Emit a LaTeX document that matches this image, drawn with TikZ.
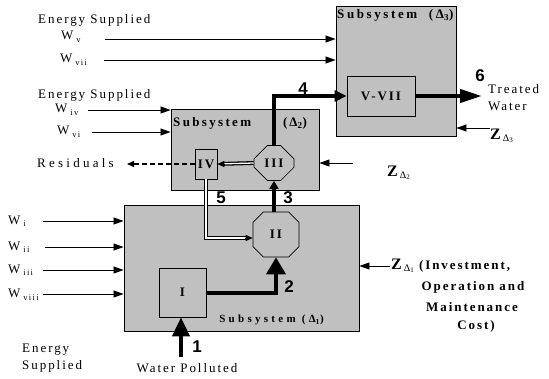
\documentclass[tikz,border=0pt]{standalone}
\usepackage{fontspec}
\setmainfont{Liberation Serif}[LetterSpace=15]
\newfontfamily\numfont{Liberation Sans}
\usetikzlibrary{arrows.meta,shapes.misc}
\definecolor{boxgray}{RGB}{192,192,192}
\newcommand{\Wl}[1]{W\hspace{3pt}\raisebox{-2.5pt}{\fontsize{8.5}{8.5}\selectfont #1}}
\newcommand{\Zl}[1]{{\fontsize{16}{16}\selectfont\bfseries Z}\hspace{2pt}\raisebox{-2pt}{\fontsize{10}{10}\selectfont Δ\raisebox{-1.5pt}{\fontsize{7}{7}\selectfont #1}}}
\tikzset{
  box/.style={draw=black, fill=boxgray, line width=0.9pt, inner sep=0pt},
  inbox/.style={draw=black, fill=boxgray, line width=0.7pt, inner sep=0pt, font=\fontsize{13}{15}\selectfont\bfseries},
  oct/.style={chamfered rectangle, chamfered rectangle xsep=9pt, chamfered rectangle ysep=9pt,
    draw=black, fill=boxgray, line width=0.7pt, inner sep=0pt, font=\fontsize{13}{15}\selectfont\bfseries},
  lbl/.style={inner sep=0pt, font=\fontsize{13}{17}\selectfont},
  blbl/.style={inner sep=0pt, font=\fontsize{13}{17}\selectfont\bfseries},
  num/.style={inner sep=0pt, font=\fontsize{17}{17}\selectfont\numfont\bfseries},
  thinarr/.style={line width=0.8pt, -{Triangle[length=10pt,width=7pt]}},
  thk/.style={line width=4pt},
  dbl/.style={double=white, double distance=1.3pt, line width=1.3pt},
  dtip/.style={line width=0.8pt, -{Triangle[length=7pt,width=6pt]}},
  dashres/.style={line width=1.4pt, dash pattern=on 5pt off 3pt, -{Triangle[length=7pt,width=6pt]}}
}
\begin{document}
\begin{tikzpicture}[x=1pt,y=-1pt]
\useasboundingbox (0,0) rectangle (549,378);
% main boxes
\node[box, minimum width=120pt, minimum height=130pt] (D3) at (396,71) {};
\node[box, minimum width=148pt, minimum height=81pt] (D2) at (245,149.5) {};
\node[box, minimum width=235pt, minimum height=126pt] (D1) at (241.5,268) {};
% inner units
\node[inbox, minimum width=68pt, minimum height=40pt] (VVII) at (381,96) {V-VII};
\node[inbox, minimum width=22pt, minimum height=30pt] (IV) at (206,164) {IV};
\node[inbox, minimum width=47pt, minimum height=49pt] (I) at (182.5,292.5) {I};
\node[oct, minimum width=40pt, minimum height=35pt] (III) at (274,163) {III};
\node[oct, minimum width=46pt, minimum height=45pt] (II) at (276,234.5) {II};
% titles
\node[blbl, anchor=west] (t3) at (337,15) {\addfontfeature{LetterSpace=20}Subsystem\ \ (Δ\textsubscript{3})};
\node[blbl, anchor=west] (t2a) at (173,123) {\addfontfeature{LetterSpace=18}Subsystem};
\node[blbl] (t2b) at (295,123) {(Δ\textsubscript{2})};
\node[inner sep=0pt, font=\fontsize{11}{13}\selectfont\bfseries] (t1) at (271.5,320) {\addfontfeature{LetterSpace=30}Subsystem (Δ\textsubscript{1})};
% left labels
\node[lbl, anchor=west] (es1) at (38,20) {Energy Supplied};
\node[lbl, anchor=west] (wv) at (61,37) {\Wl{v}};
\node[lbl, anchor=west] (wvii) at (60,60) {\Wl{vii}};
\node[lbl, anchor=west] (es2) at (38,95) {Energy Supplied};
\node[lbl, anchor=west] (wiv) at (55,110) {\Wl{iv}};
\node[lbl, anchor=west] (wvi) at (57,132) {\Wl{vi}};
\node[lbl, anchor=west] (res) at (37,163) {\addfontfeature{LetterSpace=25}Residuals};
\node[lbl, anchor=west] (wi) at (8,221) {\Wl{i}};
\node[lbl, anchor=west] (wii) at (8,247) {\Wl{ii}};
\node[lbl, anchor=west] (wiii) at (8,270) {\Wl{iii}};
\node[lbl, anchor=west] (wviii) at (8,295) {\Wl{viii}};
\node[lbl, anchor=west, align=left] (es3) at (22,358) {Energy\\Supplied};
\node[lbl] (wp) at (187,368) {Water Polluted};
\node[lbl, anchor=west, align=left] (tw) at (488,98) {Treated\\Water};
% Z labels
\node[lbl, anchor=west] (z3) at (490,136) {\Zl{3}};
\node[lbl, anchor=west] (z2) at (387,173) {\Zl{2}};
\node[lbl, anchor=west] (z1) at (391,266) {\Zl{1}\ \textbf{(Investment,}};
\node[blbl] (op) at (473,287) {Operation and};
\node[blbl] (mt) at (472,307) {Maintenance};
\node[blbl] (co) at (476,326) {Cost)};
% numbers
\node[num] (n1) at (197,347) {1};
\node[num] (n2) at (289,287) {2};
\node[num] (n3) at (288,198) {3};
\node[num] (n4) at (303,89) {4};
\node[num] (n5) at (221,198) {5};
\node[num] (n6) at (480,76) {6};
% input coordinates
\coordinate (sv) at (105,39);
\coordinate (svii) at (104,60);
\coordinate (siv) at (88,110);
\coordinate (svi) at (92,132);
\coordinate (si) at (43,221);
\coordinate (sii) at (45,247);
\coordinate (siii) at (43,270);
\coordinate (sviii) at (43,294);
\coordinate (z3s) at (490,128);
\coordinate (z2s) at (353,163);
\coordinate (z1s) at (390,266);
\coordinate (w1) at (181,357);
\coordinate (out6) at (482,96);
\coordinate (resend) at (127,164);
% thin arrows
\draw[thinarr] (sv) -- (sv -| D3.west);
\draw[thinarr] (svii) -- (svii -| D3.west);
\draw[thinarr] (siv) -- (siv -| D2.west);
\draw[thinarr] (svi) -- (svi -| D2.west);
\draw[thinarr] (si) -- (si -| D1.west);
\draw[thinarr] (sii) -- (sii -| D1.west);
\draw[thinarr] (siii) -- (siii -| D1.west);
\draw[thinarr] (sviii) -- (sviii -| D1.west);
\draw[thinarr] (z3s) -- (z3s -| D3.east);
\draw[thinarr] (z2s) -- (z2s -| D2.east);
\draw[thinarr] (z1s) -- (z1s -| D1.east);
% thick flows
\draw[thk, -{Triangle[length=19pt,width=17pt]}] (w1) -- (w1 |- I.south);
\draw[thk, -{Triangle[length=17pt,width=19pt]}] (I.east) -| (II.south);
\draw[thk, -{Triangle[length=8pt,width=9pt]}] (III.south |- II.north) -- (III.south);
\draw[thk, -{Triangle[length=12pt,width=11pt]}] (III.north) |- (VVII.west);
\draw[thk, -{Triangle[length=22pt,width=13pt]}] (VVII.east) -- (out6);
% double flows
\draw[dbl, shorten >=6pt] (III.west) -- (IV.east);
\draw[dtip] ([xshift=8pt]IV.east) -- (IV.east);
\draw[dbl, shorten >=6pt] (IV.south) |- ([yshift=-3.5pt]II.west);
\draw[dtip] ([xshift=-8pt,yshift=-3.5pt]II.west) -- ([yshift=-3.5pt]II.west);
% residuals
\draw[dashres] (IV.west) -- (resend);
\end{tikzpicture}
\end{document}
